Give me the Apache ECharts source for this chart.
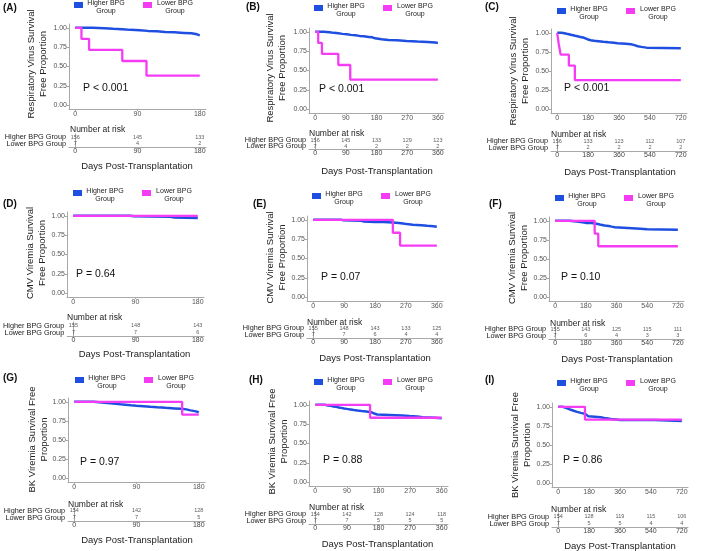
<!DOCTYPE html>
<html><head><meta charset="utf-8">
<script src="https://cdn.jsdelivr.net/npm/echarts@6/dist/echarts.min.js"></script>
<style>html,body{margin:0;padding:0;background:#fff}#c{width:709px;height:551px}</style>
</head><body><div id="c"></div>
<script>
// ================= DATA =================
const groups = ['Higher BPG Group', 'Lower BPG Group'];
const legendLabels = ['Higher BPG\nGroup', 'Lower BPG\nGroup'];
const panelLetters = ['(A)', '(B)', '(C)', '(D)', '(E)', '(F)', '(G)', '(H)', '(I)'];
const yTitles = [
  'Respiratory Virus Survival\nFree Proportion', 'Respiratory Virus Survival\nFree Proportion', 'Respiratory Virus Survival\nFree Proportion',
  'CMV Viremia Survival\nFree Proportion', 'CMV Viremia Survival\nFree Proportion', 'CMV Viremia Survival\nFree Proportion',
  'BK Viremia Survival Free\nProportion', 'BK Viremia Survival Free\nProportion', 'BK Viremia Survival Free\nProportion'
];
const pValues = ['P < 0.001', 'P < 0.001', 'P < 0.001', 'P = 0.64', 'P = 0.07', 'P = 0.10', 'P = 0.97', 'P = 0.88', 'P = 0.86'];
const xMaxes = [180, 360, 720, 180, 360, 720, 180, 360, 720];
const ticks180 = [0, 90, 180];
const ticks360 = [0, 90, 180, 270, 360];
const ticks720 = [0, 180, 360, 540, 720];
const yTicks = [0, 0.25, 0.5, 0.75, 1];
const numberAtRiskTitle = 'Number at risk';
const xTitle = 'Days Post-Transplantation';

// Kaplan-Meier step points [day, survival-free proportion]
const respHigher = [[0,1],[25,0.994],[42,0.987],[55,0.981],[68,0.974],[80,0.968],[93,0.961],[105,0.955],[118,0.948],[130,0.942],[143,0.935],[157,0.929],[168,0.916],[176,0.903],[180,0.903],[195,0.896],[215,0.890],[240,0.883],[268,0.876],[300,0.870],[330,0.863],[352,0.857],[360,0.857],[400,0.850],[430,0.842],[445,0.825],[470,0.816],[490,0.806],[520,0.798],[720,0.798]];
const respLower = [[0,1],[9,0.857],[20,0.714],[68,0.571],[103,0.381],[180,0.381],[360,0.381],[720,0.381]];
const cmvHigher = [[0,1],[82,0.994],[88,0.987],[140,0.980],[146,0.973],[180,0.973],[205,0.966],[232,0.959],[250,0.952],[262,0.945],[272,0.938],[290,0.931],[315,0.924],[332,0.917],[350,0.910],[360,0.910],[400,0.903],[450,0.896],[500,0.889],[540,0.882],[720,0.882]];
const cmvLower = [[0,1],[180,1],[232,0.833],[253,0.667],[360,0.667],[720,0.667]];
const bkHigher = [[0,1],[28,0.993],[36,0.987],[44,0.980],[52,0.974],[60,0.967],[67,0.961],[74,0.954],[82,0.948],[90,0.941],[100,0.934],[110,0.928],[120,0.921],[132,0.914],[145,0.908],[155,0.901],[162,0.888],[168,0.875],[176,0.862],[180,0.862],[248,0.855],[268,0.848],[290,0.841],[306,0.834],[340,0.828],[360,0.828],[560,0.820],[640,0.813],[720,0.813]];
const bkLower = [[0,1],[156,0.833],[180,0.833],[360,0.833],[720,0.833]];

// Number at risk (Higher / Lower) at each tick
const riskHigherA = [156,145,133],         riskLowerA = [7,4,2];
const riskHigherB = [156,145,133,129,123], riskLowerB = [7,4,2,2,2];
const riskHigherC = [156,133,123,112,107], riskLowerC = [7,2,2,2,2];
const riskHigherD = [155,148,143],         riskLowerD = [7,7,6];
const riskHigherE = [155,148,143,133,125], riskLowerE = [7,7,6,4,4];
const riskHigherF = [155,143,125,115,111], riskLowerF = [7,6,4,3,3];
const riskHigherG = [154,142,128],         riskLowerG = [7,7,5];
const riskHigherH = [154,142,128,124,118], riskLowerH = [7,7,5,5,5];
const riskHigherI = [154,128,119,115,106], riskLowerI = [7,5,5,4,4];

const higherCurves = [respHigher, respHigher, respHigher, cmvHigher, cmvHigher, cmvHigher, bkHigher, bkHigher, bkHigher];
const lowerCurves  = [respLower, respLower, respLower, cmvLower, cmvLower, cmvLower, bkLower, bkLower, bkLower];
const riskHigher = [riskHigherA, riskHigherB, riskHigherC, riskHigherD, riskHigherE, riskHigherF, riskHigherG, riskHigherH, riskHigherI];
const riskLower  = [riskLowerA, riskLowerB, riskLowerC, riskLowerD, riskLowerE, riskLowerF, riskLowerG, riskLowerH, riskLowerI];
const tickSets = [ticks180, ticks360, ticks720, ticks180, ticks360, ticks720, ticks180, ticks360, ticks720];

// ================= LAYOUT / STYLE =================
const layout = [
  {plot:[69,24,206,109],  risk:[134,147], letter:[3,8],    ytitle:[37.5,64],   pval:[83,88],   nar:[70,130],  days:[137,166],   leg:[74,2]},
  {plot:[309,28,444,113], risk:[137,149], letter:[246,7],  ytitle:[276.5,68],  pval:[319,89],  nar:[309,134], days:[377,171],   leg:[314,5]},
  {plot:[551,29,687,113], risk:[138,151], letter:[485,7],  ytitle:[519.5,71],  pval:[564,88],  nar:[551,135], days:[620,172],   leg:[557,8]},
  {plot:[67,212,204,297], risk:[322,336], letter:[3,204],  ytitle:[36,253],    pval:[76,274],  nar:[67,318],  days:[134.5,354], leg:[73,190]},
  {plot:[307,216,443,301],risk:[325,338], letter:[253,204],ytitle:[276,257.5], pval:[321,277], nar:[307,323], days:[375,358],   leg:[312,193]},
  {plot:[549,217,684,301],risk:[326,339], letter:[489,204],ytitle:[518.5,258], pval:[561,277], nar:[550,324], days:[617,359],   leg:[555,195]},
  {plot:[68,398,205,482], risk:[507,521], letter:[3,378],  ytitle:[38.5,439.5],pval:[80,462],  nar:[68,505],  days:[137,540],   leg:[75,377]},
  {plot:[309,401,448,486],risk:[511,524], letter:[249,380],ytitle:[278.5,441.5],pval:[323,460],nar:[309,508], days:[377.5,544], leg:[314,379]},
  {plot:[552,403,688,487],risk:[513,527], letter:[485,380],ytitle:[521,445],   pval:[563,460], nar:[551,510], days:[620,546],   leg:[557,380]}
];
const BLUE = '#1f4fe0', MAGENTA = '#f53cf5';
const FONT = '"Liberation Sans", Arial, Helvetica, sans-serif';
const AXIS = '#a8a8a8';

const grids = [], xAxes = [], yAxes = [], series = [], graphics = [];

layout.forEach((L, i) => {
  const xmax = xMaxes[i], ticks = tickSets[i];
  const [l, t, r, b] = L.plot;
  const xmin = -0.05 * xmax, xmx = 1.05 * xmax;
  // KM plot grid
  grids.push({left: l, top: t, width: r - l, height: b - t});
  const gi = grids.length - 1;
  xAxes.push({type: 'value', gridIndex: gi, min: xmin, max: xmx,
    axisLine: {show: true, onZero: false, lineStyle: {color: AXIS, width: 1}},
    axisTick: {show: true, customValues: ticks, length: 2, lineStyle: {color: AXIS}},
    axisLabel: {customValues: ticks, fontSize: 7, color: '#555', margin: 2, fontFamily: FONT},
    splitLine: {show: false}});
  yAxes.push({type: 'value', gridIndex: gi, min: -0.05, max: 1.05,
    axisLine: {show: true, onZero: false, lineStyle: {color: AXIS, width: 1}},
    axisTick: {show: true, customValues: yTicks, length: 2, lineStyle: {color: AXIS}},
    axisLabel: {customValues: yTicks, fontSize: 7, color: '#555', margin: 2, fontFamily: FONT,
      formatter: v => Number(v).toFixed(2)},
    splitLine: {show: false}});
  series.push({type: 'line', name: groups[0], xAxisIndex: gi, yAxisIndex: gi, step: 'end',
    showSymbol: false, symbol: 'none', lineStyle: {color: BLUE, width: 2.5}, itemStyle: {color: BLUE},
    data: higherCurves[i].filter(p => p[0] <= xmax), z: 2, silent: true, animation: false});
  series.push({type: 'line', name: groups[1], xAxisIndex: gi, yAxisIndex: gi, step: 'end',
    showSymbol: false, symbol: 'none', lineStyle: {color: MAGENTA, width: 2.3}, itemStyle: {color: MAGENTA},
    data: lowerCurves[i].filter(p => p[0] <= xmax), z: 3, silent: true, animation: false});

  // risk table grid
  const [rt, rb] = L.risk;
  grids.push({left: l, top: rt, width: r - l, height: rb - rt});
  const ri = grids.length - 1;
  xAxes.push({type: 'value', gridIndex: ri, min: xmin, max: xmx,
    axisLine: {show: true, onZero: false, lineStyle: {color: AXIS, width: 1}},
    axisTick: {show: true, customValues: ticks, length: 2, lineStyle: {color: AXIS}},
    axisLabel: {customValues: ticks, fontSize: 7, color: '#444', margin: 1, fontFamily: FONT},
    splitLine: {show: false}});
  yAxes.push({type: 'category', gridIndex: ri, data: [groups[1], groups[0]],
    axisLine: {show: true, lineStyle: {color: AXIS, width: 1}},
    axisTick: {show: false},
    axisLabel: {interval: 0, hideOverlap: false, fontSize: 7.3, color: '#1a1a1a', margin: 3, fontFamily: FONT},
    splitLine: {show: false}});
  const riskData = ticks.map((tk, k) => [tk, groups[0], riskHigher[i][k]])
    .concat(ticks.map((tk, k) => [tk, groups[1], riskLower[i][k]]));
  series.push({type: 'scatter', xAxisIndex: ri, yAxisIndex: ri, symbolSize: 1,
    itemStyle: {color: 'rgba(0,0,0,0)'}, silent: true, animation: false,
    label: {show: true, position: 'inside', formatter: p => String(p.value[2]), fontSize: 5.5,
      color: '#333', fontFamily: FONT},
    labelLayout: {hideOverlap: false},
    data: riskData});

  // texts
  graphics.push({type: 'text', x: L.letter[0], y: L.letter[1], silent: true,
    style: {text: panelLetters[i], fontSize: 10, fontWeight: 'bold', fontFamily: FONT, fill: '#111', align: 'left', verticalAlign: 'middle'}});
  graphics.push({type: 'text', x: L.ytitle[0], y: L.ytitle[1], rotation: Math.PI / 2, silent: true,
    style: {text: yTitles[i], fontSize: 9.5, lineHeight: 12, fontFamily: FONT, fill: '#222', align: 'center', verticalAlign: 'middle'}});
  graphics.push({type: 'text', x: L.pval[0], y: L.pval[1], silent: true,
    style: {text: pValues[i], fontSize: 10.5, fontFamily: FONT, fill: '#111', align: 'left', verticalAlign: 'middle'}});
  graphics.push({type: 'text', x: L.nar[0], y: L.nar[1], silent: true,
    style: {text: numberAtRiskTitle, fontSize: 8.5, fontFamily: FONT, fill: '#222', align: 'left', verticalAlign: 'middle'}});
  graphics.push({type: 'text', x: L.days[0], y: L.days[1], silent: true,
    style: {text: xTitle, fontSize: 9.5, fontFamily: FONT, fill: '#222', align: 'center', verticalAlign: 'middle'}});
  // legend
  const [lx, ly] = L.leg;
  [[0, BLUE], [69, MAGENTA]].forEach(([dx, col], g) => {
    graphics.push({type: 'rect', silent: true, shape: {x: lx + dx, y: ly, width: 9, height: 6}, style: {fill: col}});
    graphics.push({type: 'text', x: lx + dx + 32, y: ly - 2.5, silent: true,
      style: {text: legendLabels[g], fontSize: 7, lineHeight: 8, fontFamily: FONT, fill: '#222', align: 'center', verticalAlign: 'top'}});
  });
});

const chart = echarts.init(document.getElementById('c'), null, {renderer: 'canvas'});
chart.setOption({
  backgroundColor: '#fff',
  animation: false,
  grid: grids, xAxis: xAxes, yAxis: yAxes, series: series, graphic: graphics
});
</script></body></html>
